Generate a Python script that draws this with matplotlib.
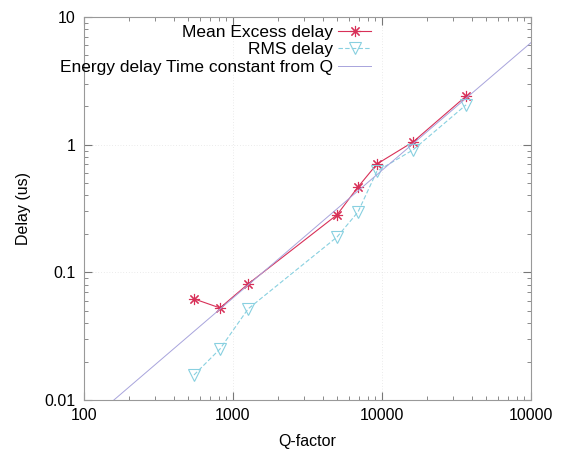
import matplotlib
matplotlib.use("Agg")
import matplotlib.pyplot as plt
from matplotlib.ticker import LogLocator, FixedLocator, FixedFormatter, NullFormatter

plt.rcParams['font.family'] = ['Liberation Sans', 'DejaVu Sans']

# values
q_factor = [547, 818, 1262, 4990, 6900, 9250, 16150, 36650]
mean_excess = [0.062, 0.0526, 0.081, 0.282, 0.466, 0.706, 1.05, 2.40]
rms_delay = [0.0157, 0.0251, 0.0517, 0.189, 0.297, 0.62, 0.91, 2.05]

# energy delay time constant line, two end points
q_line = [100, 100000]
tau_line = [0.0063, 6.3]

x_ticks = [100, 1000, 10000, 100000]
x_labels = ["100", "1000", "10000", "10000"]
y_ticks = [0.01, 0.1, 1, 10]
y_labels = ["0.01", "0.1", "1", "10"]

red = "#d83058"
cyan = "#88d0e0"
blue = "#a8a4dc"

fig = plt.figure(figsize=(5.63, 4.59), dpi=100)
ax = fig.add_axes([84/563, 59/459, 447/563, 383/459])
ax.set_xscale("log")
ax.set_yscale("log")

l1, = ax.plot(q_factor, mean_excess, color=red, lw=0.8, marker=(8, 2, 0),
              ms=8, mew=0.8, label="Mean Excess delay")
l2, = ax.plot(q_factor, rms_delay, color=cyan, lw=0.8, ls=(0, (4, 2)), marker="v",
              ms=8.5, mfc="none", mew=0.8, label="RMS delay")
l3, = ax.plot(q_line, tau_line, color=blue, lw=0.7,
              label="Energy delay Time constant from Q")

ax.set_xlim(100, 100000)
ax.set_ylim(0.01, 10)

ax.xaxis.set_major_locator(FixedLocator(x_ticks))
ax.xaxis.set_major_formatter(FixedFormatter(x_labels))
ax.yaxis.set_major_locator(FixedLocator(y_ticks))
ax.yaxis.set_major_formatter(FixedFormatter(y_labels))
ax.xaxis.set_minor_locator(LogLocator(base=10, subs=range(2, 10)))
ax.yaxis.set_minor_locator(LogLocator(base=10, subs=range(2, 10)))
ax.xaxis.set_minor_formatter(NullFormatter())
ax.yaxis.set_minor_formatter(NullFormatter())

ax.tick_params(which="both", direction="in", top=True, right=True,
               color="#777777", labelsize=11.5, labelcolor="black")
ax.tick_params(which="major", length=6, width=0.8, pad=6)
ax.tick_params(which="minor", length=3, width=0.6)
for s in ax.spines.values():
    s.set_color("#999999")
    s.set_linewidth(0.8)

ax.grid(which="major", color="#d8d8d8", lw=0.5, ls=(0, (1, 3)))

ax.set_xlabel("Q-factor", fontsize=11.5, labelpad=8)
ax.set_ylabel("Delay (us)", fontsize=11.5, labelpad=10)

ax.legend(handles=[l1, l2, l3], loc="upper right", markerfirst=False,
          bbox_to_anchor=(371/563, (459-25)/459), bbox_transform=fig.transFigure,
          frameon=False, fontsize=12.5, handlelength=1.9, handletextpad=0.3,
          labelspacing=0.12, borderpad=0, borderaxespad=0)

fig.savefig("out.png", dpi=100)
